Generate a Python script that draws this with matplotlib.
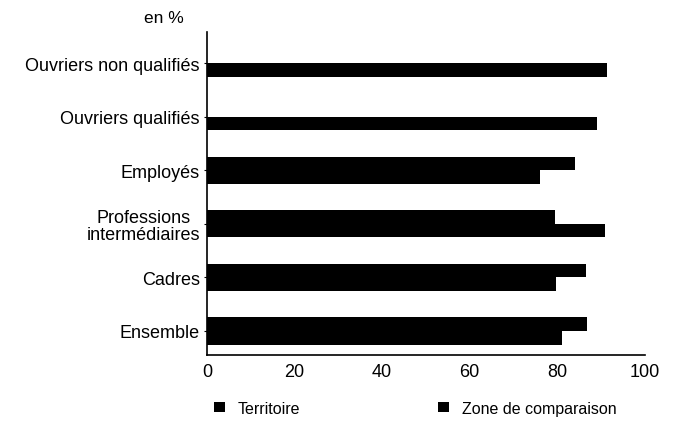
import numpy as np
import matplotlib.pyplot as plt

plt.rcParams['font.family'] = ['Liberation Sans', 'DejaVu Sans']

# categories from bottom to top
categories = ["Ensemble", "Cadres", "Professions\nintermédiaires", "Employés",
              "Ouvriers qualifiés", "Ouvriers non qualifiés"]
territoire = [81.0, 79.6, 90.9, 76.0, 89.0, 91.3]
zone_comp = [86.8, 86.5, 79.4, 84.0, np.nan, np.nan]
x_ticks = [0, 20, 40, 60, 80, 100]

fig = plt.figure(figsize=(6.76, 4.31), dpi=100)
ax = fig.add_axes([0.306, 0.174, 0.648, 0.749])

y = np.arange(len(categories))
h = 0.255
b1 = ax.barh(y - h/2, territoire, height=h, color='black', label='Territoire')
b2 = ax.barh(y + h/2, zone_comp, height=h, color='black', label='Zone de comparaison')

ax.set_xlim(0, 100)
ax.set_ylim(-0.45, 5.58)
ax.set_xticks(x_ticks)
ax.set_xticklabels([str(t) for t in x_ticks], fontsize=13)
ax.set_yticks(y)
ax.set_yticklabels(categories, fontsize=13, multialignment='center',
                   linespacing=1.0)
ax.tick_params(axis='x', length=0, pad=6)
ax.tick_params(axis='y', length=2, pad=3)

for s in ['top', 'right']:
    ax.spines[s].set_visible(False)
for s in ['left', 'bottom']:
    ax.spines[s].set_linewidth(1.2)
    ax.spines[s].set_color('black')

fig.text(0.213, 0.958, "en %", fontsize=12.5, ha='left', va='center')

fig.legend(handles=[b1, b2], loc='center left', bbox_to_anchor=(0.295, 0.05),
           ncol=2, frameon=False, fontsize=11.5, handlelength=0.7, handleheight=0.6,
           columnspacing=8.6, handletextpad=0.8)

fig.savefig("out.png", dpi=100)
